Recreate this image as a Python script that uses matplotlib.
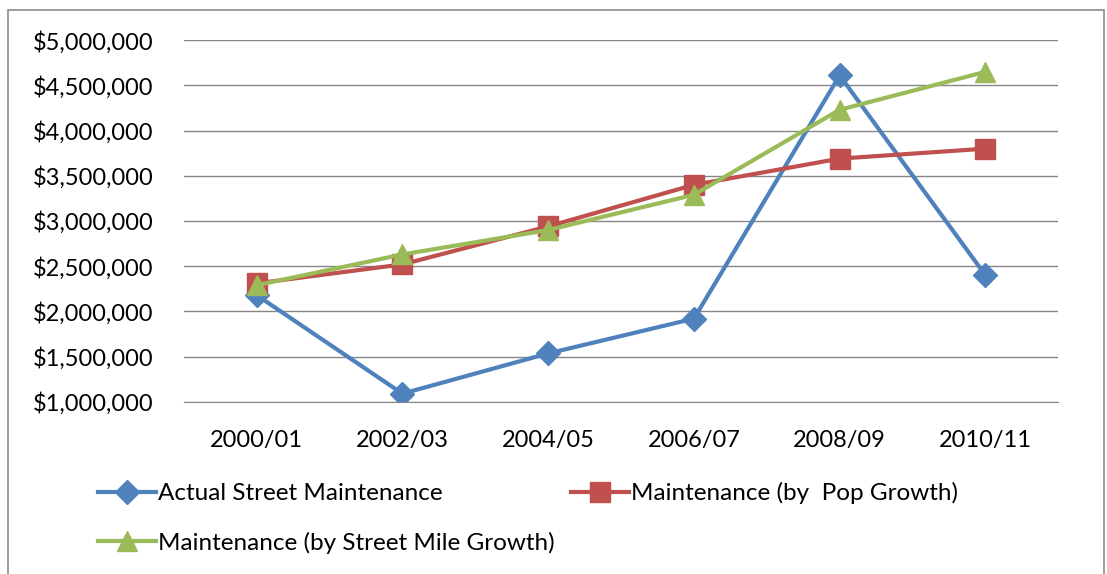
import matplotlib.pyplot as plt
from matplotlib.patches import Rectangle
from matplotlib.ticker import FuncFormatter

plt.rcParams['font.family'] = ['Lato', 'DejaVu Sans']

years = ['2000/01', '2002/03', '2004/05', '2006/07', '2008/09', '2010/11']
actual = [2180000, 1090000, 1535000, 1920000, 4610000, 2400000]
pop_growth = [2310000, 2520000, 2940000, 3400000, 3690000, 3800000]
mile_growth = [2290000, 2630000, 2900000, 3290000, 4230000, 4650000]

fig = plt.figure(figsize=(11.07, 5.74), dpi=100)
ax = fig.add_axes([0.166, 0.300, 0.790, 0.630])

x = range(len(years))
l1, = ax.plot(x, actual, color='#4F81BD', linewidth=3, marker='D', markersize=12,
              label='Actual Street Maintenance')
l2, = ax.plot(x, pop_growth, color='#C0504D', linewidth=3, marker='s', markersize=14,
              label='Maintenance (by  Pop Growth)')
l3, = ax.plot(x, mile_growth, color='#9BBB59', linewidth=3, marker='^', markersize=15,
              label='Maintenance (by Street Mile Growth)')

ax.set_xlim(-0.5, 5.5)
ax.set_ylim(1000000, 5000000)
ax.set_yticks(range(1000000, 5000001, 500000))
ax.yaxis.set_major_formatter(FuncFormatter(lambda v, p: '${:,.0f}'.format(v)))
ax.set_xticks(list(x))
ax.set_xticklabels(years)
ax.grid(axis='y', color='#868686', linewidth=1)
ax.set_axisbelow(True)
for s in ['top', 'right', 'left']:
    ax.spines[s].set_visible(False)
ax.spines['bottom'].set_color('#868686')
ax.tick_params(length=0, labelsize=17)
ax.tick_params(axis='x', pad=20)
ax.tick_params(axis='y', pad=22)

fig.legend(handles=[l1, l3, l2], loc='upper left', bbox_to_anchor=(0.0885, 0.160),
           ncol=2, frameon=False, fontsize=17.5, handlelength=2.4, handletextpad=0.05,
           columnspacing=0.7, labelspacing=1.12, borderpad=0, borderaxespad=0)

fig.patches.append(Rectangle((0.007, -0.01), 0.99, 0.993, transform=fig.transFigure,
                             fill=False, edgecolor='#8c8c8c', linewidth=1.2))

fig.savefig('out.png', dpi=100)
